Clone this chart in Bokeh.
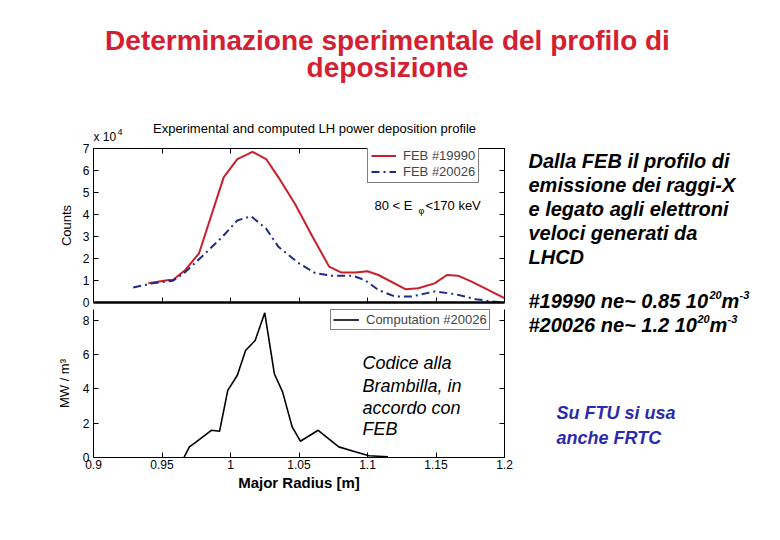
from bokeh.plotting import figure
from bokeh.models import Label, Legend, LegendItem, LinearAxis, FixedTicker, Range1d
from bokeh.layouts import column, row
from bokeh.embed import file_html
from bokeh.resources import INLINE

# ---------------- data ----------------
feb19990_r = [0.940, 0.955, 0.958, 0.967, 0.977, 0.995, 1.005, 1.016, 1.026, 1.035, 1.047,
              1.060, 1.072, 1.081, 1.091, 1.100, 1.108, 1.128, 1.137, 1.149, 1.158, 1.166,
              1.176, 1.200]
feb19990_counts = [0.87, 1.02, 1.02, 1.48, 2.23, 5.69, 6.52, 6.85, 6.52, 5.69, 4.49,
                   2.98, 1.63, 1.36, 1.36, 1.42, 1.25, 0.60, 0.65, 0.87, 1.25, 1.22,
                   0.95, 0.20]
feb20026_r = [0.929, 0.943, 0.958, 0.966, 0.979, 0.994, 1.005, 1.015, 1.026, 1.035, 1.050,
              1.062, 1.074, 1.089, 1.098, 1.108, 1.120, 1.132, 1.149, 1.164, 1.179, 1.191,
              1.200]
feb20026_counts = [0.68, 0.87, 0.99, 1.33, 2.08, 2.98, 3.73, 3.92, 3.36, 2.53, 1.78,
                   1.33, 1.22, 1.22, 1.02, 0.57, 0.27, 0.27, 0.50, 0.38, 0.15, 0.05,
                   0.00]
comp_r = [0.966, 0.970, 0.975, 0.986, 0.992, 0.998, 1.005, 1.011, 1.018, 1.025, 1.032,
          1.038, 1.045, 1.051, 1.064, 1.079, 1.091, 1.101, 1.115]
comp_mw = [0.00, 0.62, 0.91, 1.59, 1.53, 3.92, 4.80, 6.25, 6.83, 8.45, 4.89,
           3.83, 1.79, 0.95, 1.59, 0.62, 0.33, 0.10, 0.04]

x_ticks = [0.9, 0.95, 1.0, 1.05, 1.1, 1.15, 1.2]
x_tick_labels = ["0.9", "0.95", "1", "1.05", "1.1", "1.15", "1.2"]
top_y_ticks = [0, 1, 2, 3, 4, 5, 6, 7]
bottom_y_ticks = [0, 2, 4, 6, 8]

FONT = "Liberation Sans"
RED = "#c8202a"
BLUE = "#1c2b8c"
TITLE_RED = "#d42030"
TEXT_BLUE = "#2a2ab0"


def style_axis(ax):
    ax.major_tick_in = 5
    ax.major_tick_out = 0
    ax.minor_tick_line_color = None
    ax.axis_line_color = "black"
    ax.major_tick_line_color = "black"
    ax.major_label_text_font = FONT
    ax.major_label_text_font_size = "12px"
    ax.major_label_standoff = 4
    ax.major_label_text_color = "black"
    ax.axis_label_text_font = FONT
    ax.axis_label_text_font_style = "normal"
    ax.axis_label_text_color = "black"


def tick_only_axis(ticks):
    # an axis that draws inward ticks only (ticks given as minor ticks, so no labels)
    ax = LinearAxis(ticker=FixedTicker(ticks=[], minor_ticks=ticks))
    ax.major_tick_line_color = None
    ax.minor_tick_in = 5
    ax.minor_tick_out = 0
    ax.minor_tick_line_color = "black"
    ax.axis_line_color = "black"
    ax.major_label_standoff = 0
    return ax


def text_panel(w, h):
    p = figure(width=w, height=h, output_backend="svg", toolbar_location=None,
               min_border=0, x_range=Range1d(0, 1), y_range=Range1d(0, 1))
    p.axis.visible = False
    p.grid.visible = False
    p.outline_line_color = None
    return p


def lab(p, text, x, y, size="13px", style="normal", color="black", align="left"):
    # x, y: screen pixels relative to the plot frame's bottom-left corner
    p.add_layout(Label(x=x, y=y, x_units="screen", y_units="screen", text=text,
                       text_font=FONT, text_font_size=size, text_font_style=style,
                       text_color=color, text_align=align, text_baseline="middle"))


# ---------------- slide title (page y 0..103) ----------------
pt = text_panel(772, 103)
lab(pt, "Determinazione sperimentale del profilo di", 387, 103 - 40, size="28px",
    style="bold", color=TITLE_RED, align="center")
lab(pt, "deposizione", 387, 103 - 67, size="28px", style="bold", color=TITLE_RED,
    align="center")

# ---------------- header of the top plot (page y 103..143; frame aligned to x 93..504) ----------------
ph = text_panel(524, 40)
lab(ph, "Experimental and computed LH power deposition profile", 314 - 93, 143 - 128,
    size="13px", align="center")
lab(ph, "x 10", 0, 143 - 136, size="12px")
lab(ph, "4", 117 - 93, 143 - 131, size="9px")

# ---------------- top plot (page y 143..309, frame 148..302) ----------------
p1 = figure(width=524, height=166, x_range=Range1d(0.9, 1.2), y_range=Range1d(0, 7),
            output_backend="svg", toolbar_location=None, x_axis_location=None,
            min_border_left=93, min_border_right=20, min_border_top=5, min_border_bottom=7)
p1.grid.visible = False
p1.outline_line_color = "black"
p1.yaxis.ticker = FixedTicker(ticks=top_y_ticks)
style_axis(p1.yaxis[0])
p1.yaxis[0].axis_label = "Counts"
p1.yaxis[0].axis_label_text_font_size = "13px"
p1.yaxis[0].axis_label_standoff = 6
ax_b1 = tick_only_axis(x_ticks)
ax_b1.axis_line_width = 2.5
p1.add_layout(ax_b1, "below")
p1.add_layout(tick_only_axis(x_ticks), "above")
p1.add_layout(tick_only_axis(top_y_ticks), "right")

r_red = p1.line(feb19990_r, feb19990_counts, line_color=RED, line_width=2)
r_blue = p1.line(feb20026_r, feb20026_counts, line_color=BLUE, line_width=2,
                 line_dash="8 4 2 4")

leg1 = Legend(items=[LegendItem(label="FEB #19990", renderers=[r_red]),
                     LegendItem(label="FEB #20026", renderers=[r_blue])],
              location=(274, 119), border_line_color="black", background_fill_alpha=1,
              label_text_font=FONT, label_text_font_size="13px", label_height=13,
              glyph_height=13, glyph_width=25, padding=3, spacing=1, margin=0,
              label_standoff=7)
p1.add_layout(leg1, "center")

# frame-relative: x = px - 93, y = 302 - py
lab(p1, "80 < E", 374 - 93, 302 - 205, size="13px")
lab(p1, "\u03c6", 418 - 93, 302 - 210, size="9px")
lab(p1, "<170 keV", 425 - 93, 302 - 205, size="13px")

# ---------------- bottom plot (page y 309..532, frame 309..457) ----------------
p2 = figure(width=524, height=223, x_range=Range1d(0.9, 1.2), y_range=Range1d(0, 8.64),
            output_backend="svg", toolbar_location=None,
            min_border_left=93, min_border_right=20, min_border_top=0, min_border_bottom=75)
p2.grid.visible = False
p2.outline_line_color = None
p2.xaxis.ticker = FixedTicker(ticks=x_ticks)
p2.xaxis.major_label_overrides = {t: s for t, s in zip(x_ticks, x_tick_labels)}
p2.yaxis.ticker = FixedTicker(ticks=bottom_y_ticks)
style_axis(p2.xaxis[0])
p2.xaxis[0].axis_label = "Major Radius [m]"
p2.xaxis[0].axis_label_text_font_size = "15px"
p2.xaxis[0].axis_label_text_font_style = "bold"
p2.xaxis[0].axis_label_standoff = 2
p2.xaxis[0].major_label_standoff = 2
style_axis(p2.yaxis[0])
p2.yaxis[0].axis_label = "MW / m\u00b3"
p2.yaxis[0].axis_label_text_font_size = "13px"
p2.yaxis[0].axis_label_standoff = 8
p2.add_layout(tick_only_axis(bottom_y_ticks), "right")

r_comp = p2.line(comp_r, comp_mw, line_color="black", line_width=1.6)
leg2 = Legend(items=[LegendItem(label="Computation #20026", renderers=[r_comp])],
              location=(237, 127), border_line_color="black", background_fill_alpha=1,
              label_text_font=FONT, label_text_font_size="13px", label_height=13,
              glyph_height=13, glyph_width=26, padding=2, spacing=0, margin=0,
              label_standoff=7)
p2.add_layout(leg2, "center")

# frame-relative: x = px - 93, y = 457 - py
for txt, py in [("Codice alla", 362), ("Brambilla, in", 385), ("accordo con", 407),
                ("FEB", 428)]:
    lab(p2, txt, 362 - 93, 457 - py, size="18px", style="italic")

# ---------------- right text panel (page x 524..772, y 103..532) ----------------
pr = text_panel(248, 429)
X0 = 524
B = 532
BI = "bold italic"
for txt, py in [("Dalla FEB il profilo di", 160), ("emissione dei raggi-X", 184),
                ("e legato agli elettroni", 208), ("veloci generati da", 232),
                ("LHCD", 256)]:
    lab(pr, txt, 528 - X0, B - py, size="20px", style=BI)

lab(pr, "#19990 ne~ 0.85 10", 528 - X0, B - 300, size="20px", style=BI)
lab(pr, "20", 709 - X0, B - 294, size="11px", style=BI)
lab(pr, "m", 721 - X0, B - 300, size="20px", style=BI)
lab(pr, "-3", 739 - X0, B - 294, size="11px", style=BI)
lab(pr, "#20026 ne~ 1.2 10", 528 - X0, B - 324, size="20px", style=BI)
lab(pr, "20", 697 - X0, B - 318, size="11px", style=BI)
lab(pr, "m", 709 - X0, B - 324, size="20px", style=BI)
lab(pr, "-3", 727 - X0, B - 318, size="11px", style=BI)

lab(pr, "Su FTU si usa", 556 - X0, B - 412, size="18px", style=BI, color=TEXT_BLUE)
lab(pr, "anche FRTC", 556 - X0, B - 437, size="18px", style=BI, color=TEXT_BLUE)

layout = column(pt, row(column(ph, p1, p2), pr))
open("out.html", "w").write(file_html(layout, INLINE))
